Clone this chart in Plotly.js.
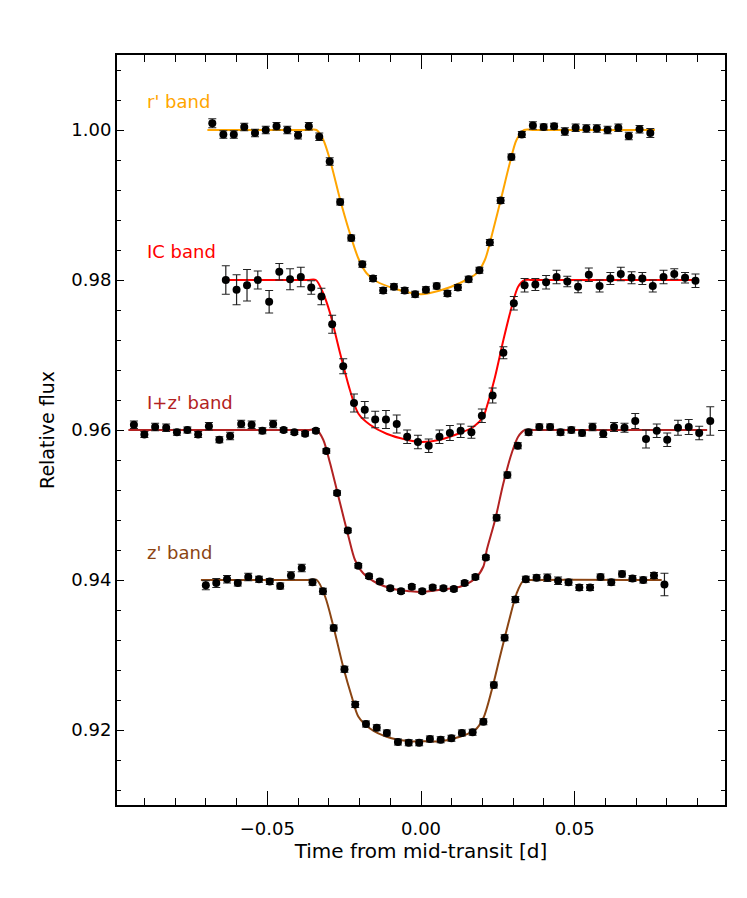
<!DOCTYPE html>
<html>
<head>
<meta charset="utf-8">
<script src="https://cdn.plot.ly/plotly-3.0.1.min.js"></script>
<style>
  body { margin: 0; background: white; }
  #lcplot { width: 747px; height: 898px; }
</style>
</head>
<body>
<div id="lcplot"></div>
<script>
// Transit light curves in four bands, each offset by 0.02 in relative flux.

var bandNames = ["r' band", "IC band", "I+z' band", "z' band"];
var bandColours = ['#FFA500', '#FF0000', '#B22222', '#8B4513'];
var labelY = [1.0038, 0.9838, 0.9637, 0.9437];

// r' band
var rX = [-0.0679, -0.0643, -0.0609, -0.0575, -0.054, -0.0505, -0.047, -0.0435, -0.040, -0.0365,
          -0.0331, -0.0297, -0.0263, -0.0227, -0.0191, -0.0156, -0.0123, -0.0088, -0.0053, -0.0019,
          0.0016, 0.0051, 0.0086, 0.012, 0.0155, 0.019, 0.0224, 0.0259, 0.0294, 0.0328,
          0.0364, 0.0399, 0.0433, 0.0468, 0.0503, 0.0538, 0.0572, 0.0607, 0.0642, 0.0676,
          0.0711, 0.0746];
var rY = [1.0009, 0.9994, 0.9994, 1.0004, 0.9996, 1.0000, 1.0005, 1.0000, 0.9993, 1.0005,
          0.9991, 0.9958, 0.9904, 0.9856, 0.9821, 0.9802, 0.9786, 0.9791, 0.9786, 0.9781,
          0.9787, 0.9792, 0.9782, 0.9790, 0.9801, 0.9813, 0.9850, 0.9906, 0.9964, 0.9994,
          1.0006, 1.0004, 1.0005, 0.9998, 1.0003, 1.0002, 1.0002, 1.0000, 1.0003, 0.9992,
          1.0001, 0.9996];
var rErr = [0.0006, 0.0005, 0.0005, 0.0005, 0.0005, 0.0005, 0.0005, 0.0005, 0.0005, 0.0005,
            0.0005, 0.0005, 0.0004, 0.0004, 0.0004, 0.0004, 0.0004, 0.0004, 0.0004, 0.0004,
            0.0004, 0.0004, 0.0004, 0.0004, 0.0004, 0.0004, 0.0004, 0.0004, 0.0004, 0.0004,
            0.0005, 0.0004, 0.0004, 0.0005, 0.0005, 0.0005, 0.0005, 0.0005, 0.0005, 0.0005,
            0.0005, 0.0006];
var rModelX = [-0.0695, -0.037, -0.034, -0.0318, -0.0296, -0.0263, -0.0235, -0.0204, -0.0177, -0.0144,
               -0.009, -0.0036, 0, 0.0062, 0.0127, 0.0181, 0.0208, 0.0235, 0.0262, 0.0289,
               0.0311, 0.0336, 0.037, 0.0761];
var rModelY = [1.0, 1.0, 1.0, 0.9987, 0.9960, 0.9907, 0.9867, 0.9829, 0.9809, 0.9798,
               0.9789, 0.9783, 0.9781, 0.9786, 0.9796, 0.9809, 0.9827, 0.9867, 0.9911, 0.9956,
               0.9987, 1.0, 1.0, 1.0];

// IC band
var icX = [-0.0635, -0.060, -0.0566, -0.0531, -0.0494, -0.0461, -0.0426, -0.0391, -0.0357, -0.0324,
           -0.0289, -0.0253, -0.0218, -0.0183, -0.0149, -0.0114, -0.0079, -0.0045, -0.001,
           0.0025, 0.006, 0.0094, 0.0129, 0.0164, 0.0198, 0.0233, 0.0268, 0.0302, 0.0337,
           0.0372, 0.0407, 0.0441, 0.0476, 0.0511, 0.0546, 0.0581, 0.0616, 0.065, 0.0685,
           0.072, 0.0754, 0.0789, 0.0824, 0.0859, 0.0893];
var icY = [0.9800, 0.9787, 0.9793, 0.9800, 0.9771, 0.9811, 0.9801, 0.9804, 0.9790, 0.9778,
           0.9741, 0.9685, 0.9636, 0.9627, 0.9614, 0.9614, 0.9608, 0.9591, 0.9584,
           0.9579, 0.9591, 0.9596, 0.9599, 0.9597, 0.9619, 0.9646, 0.9703, 0.9769, 0.9793,
           0.9794, 0.9797, 0.9804, 0.9798, 0.9791, 0.9807, 0.9792, 0.9802, 0.9808, 0.9803,
           0.9802, 0.9792, 0.9804, 0.9808, 0.9803, 0.9799];
var icErr = [0.0019, 0.0020, 0.0021, 0.0012, 0.0015, 0.0011, 0.0014, 0.0013, 0.0009, 0.0011,
             0.0012, 0.0010, 0.0012, 0.0011, 0.0011, 0.0012, 0.0012, 0.0009, 0.0009,
             0.0009, 0.0009, 0.0010, 0.0009, 0.0008, 0.0009, 0.0010, 0.0008, 0.0009, 0.0009,
             0.0008, 0.0009, 0.0009, 0.0007, 0.0008, 0.0009, 0.0008, 0.0008, 0.0009, 0.0008,
             0.0008, 0.0008, 0.0009, 0.0007, 0.0007, 0.0009];
var icModelX = [-0.0635, -0.037, -0.0342, -0.0318, -0.0296, -0.0263, -0.0231, -0.0204, -0.0166, -0.0112,
                -0.0047, 0, 0.0062, 0.0127, 0.017, 0.0203, 0.0214, 0.0241, 0.0268, 0.0295,
                0.0316, 0.0338, 0.036, 0.0893];
var icModelY = [0.98, 0.98, 0.98, 0.9782, 0.9756, 0.9702, 0.9653, 0.9622, 0.9607, 0.9595,
                0.9587, 0.9584, 0.9587, 0.9596, 0.9604, 0.9618, 0.9631, 0.9671, 0.9720, 0.9764,
                0.9791, 0.98, 0.98, 0.98];

// I+z' band
var izX = [-0.0934, -0.09, -0.0865, -0.0829, -0.0794, -0.076, -0.0725, -0.069, -0.0656, -0.0621,
           -0.0585, -0.0551, -0.0516, -0.0481, -0.0447, -0.0412, -0.0377, -0.0342, -0.0308, -0.0273,
           -0.0238, -0.0204, -0.0169, -0.0134, -0.01, -0.0065, -0.003,
           0.0004, 0.0038, 0.0073,
           0.0107, 0.0142, 0.0177, 0.0211, 0.0246, 0.0281, 0.0315, 0.035, 0.0385, 0.042,
           0.0454, 0.0489, 0.0524, 0.0558, 0.0593, 0.0628, 0.0662, 0.0697, 0.0732, 0.0767,
           0.0801, 0.0836, 0.0871, 0.0905, 0.0941];
var izY = [0.9607, 0.9594, 0.9604, 0.9603, 0.9597, 0.9600, 0.9594, 0.9605, 0.9587, 0.9592,
           0.9608, 0.9607, 0.9599, 0.9608, 0.9600, 0.9597, 0.9595, 0.9599, 0.9572, 0.9516,
           0.9466, 0.9419, 0.9405, 0.9398, 0.9389, 0.9385, 0.9391,
           0.9385, 0.9390, 0.9389,
           0.9388, 0.9396, 0.9404, 0.9430, 0.9483, 0.9540, 0.9579, 0.9597, 0.9604, 0.9604,
           0.9597, 0.9600, 0.9596, 0.9604, 0.9595, 0.9604, 0.9603, 0.9612, 0.9588, 0.9599,
           0.9587, 0.9603, 0.9604, 0.9596, 0.9612];
var izErr = [0.0005, 0.0004, 0.0005, 0.0005, 0.0004, 0.0004, 0.0004, 0.0005, 0.0004, 0.0005,
             0.0005, 0.0005, 0.0004, 0.0005, 0.0003, 0.0003, 0.0003, 0.0003, 0.0003, 0.0003,
             0.0003, 0.0003, 0.0003, 0.0003, 0.0003, 0.0003, 0.0003,
             0.0003, 0.0003, 0.0003,
             0.0003, 0.0003, 0.0003, 0.0003, 0.0004, 0.0004, 0.0004, 0.0004, 0.0004, 0.0004,
             0.0004, 0.0004, 0.0004, 0.0005, 0.0005, 0.0006, 0.0006, 0.0010, 0.0012, 0.0009,
             0.0009, 0.0010, 0.0010, 0.0009, 0.0019];
var izModelX = [-0.0952, -0.037, -0.0339, -0.0318, -0.0296, -0.0263, -0.0236, -0.0215, -0.0188, -0.0144,
                -0.009, -0.0036, 0, 0.0062, 0.0127, 0.0176, 0.0203, 0.0214, 0.0241, 0.0268,
                0.0295, 0.0316, 0.0338, 0.036, 0.0931];
var izModelY = [0.96, 0.96, 0.96, 0.9587, 0.9556, 0.9502, 0.9458, 0.9427, 0.9409, 0.9396,
                0.9388, 0.9385, 0.9384, 0.9387, 0.9391, 0.9402, 0.9418, 0.9440, 0.9480, 0.9529,
                0.9569, 0.9591, 0.96, 0.96, 0.96];

// z' band
var zX = [-0.07, -0.0666, -0.0631, -0.0596, -0.0562, -0.0527, -0.0492, -0.0458, -0.0423, -0.0388,
          -0.0353, -0.0319, -0.0284, -0.0249, -0.0214, -0.0179, -0.0144, -0.0111, -0.0075, -0.004,
          -0.0006,
          0.0029, 0.0064, 0.0099, 0.0133, 0.0168, 0.0203, 0.0237, 0.0272, 0.0307, 0.0341,
          0.0376, 0.0411, 0.0446, 0.048, 0.0515, 0.055, 0.0584, 0.0619, 0.0654, 0.0688,
          0.0723, 0.0758, 0.0792];
var zY = [0.9393, 0.9396, 0.9401, 0.9396, 0.9404, 0.9401, 0.9398, 0.9392, 0.9406, 0.9416,
          0.9397, 0.9385, 0.9336, 0.9281, 0.9234, 0.9208, 0.9203, 0.9196, 0.9184, 0.9183,
          0.9183,
          0.9188, 0.9187, 0.9189, 0.9196, 0.9197, 0.9211, 0.9260, 0.9323, 0.9374, 0.9401,
          0.9403, 0.9403, 0.9399, 0.9397, 0.9390, 0.9390, 0.9404, 0.9397, 0.9408, 0.9402,
          0.9400, 0.9406, 0.9394];
var zErr = [0.0006, 0.0006, 0.0005, 0.0004, 0.0005, 0.0004, 0.0004, 0.0004, 0.0005, 0.0005,
            0.0004, 0.0004, 0.0004, 0.0004, 0.0004, 0.0004, 0.0004, 0.0004, 0.0004, 0.0004,
            0.0004,
            0.0004, 0.0004, 0.0004, 0.0004, 0.0004, 0.0004, 0.0004, 0.0004, 0.0004, 0.0004,
            0.0004, 0.0005, 0.0005, 0.0004, 0.0004, 0.0004, 0.0004, 0.0004, 0.0004, 0.0004,
            0.0004, 0.0004, 0.0015];
var zModelX = [-0.0716, -0.037, -0.0339, -0.0312, -0.0285, -0.0253, -0.0225, -0.0204, -0.0166, -0.0112,
               -0.0036, 0, 0.0062, 0.0127, 0.0176, 0.0203, 0.023, 0.0257, 0.0284, 0.0311,
               0.0333, 0.036, 0.0783];
var zModelY = [0.94, 0.94, 0.94, 0.9378, 0.9338, 0.9284, 0.9244, 0.9218, 0.9202, 0.9191,
               0.9185, 0.9185, 0.9185, 0.9191, 0.9200, 0.9216, 0.9253, 0.9298, 0.9342, 0.9382,
               0.9399, 0.94, 0.94];

var bands = [
    {x: rX, y: rY, err: rErr, mx: rModelX, my: rModelY},
    {x: icX, y: icY, err: icErr, mx: icModelX, my: icModelY},
    {x: izX, y: izY, err: izErr, mx: izModelX, my: izModelY},
    {x: zX, y: zY, err: zErr, mx: zModelX, my: zModelY}
];

var fontFamily = 'DejaVu Sans, sans-serif';
var traces = [], annotations = [];
var i, b;

// model curves underneath
for (i = 0; i < bands.length; i++) {
    b = bands[i];
    traces.push({
        x: b.mx, y: b.my,
        mode: 'lines',
        line: {color: bandColours[i], width: 2, shape: 'spline', smoothing: 0.8},
        hoverinfo: 'skip'
    });
}

// the measurements with error bars
for (i = 0; i < bands.length; i++) {
    b = bands[i];
    traces.push({
        x: b.x, y: b.y,
        mode: 'markers',
        marker: {color: 'black', size: 8},
        error_y: {type: 'data', array: b.err, visible: true,
                  color: '#222222', thickness: 1.2, width: 4}
    });
    annotations.push({
        x: -0.0897, y: labelY[i],
        xref: 'x', yref: 'y',
        xanchor: 'left', yanchor: 'middle',
        text: bandNames[i],
        showarrow: false,
        font: {family: fontFamily, size: 18, color: bandColours[i]}
    });
}

var layout = {
    width: 747,
    height: 898,
    showlegend: false,
    paper_bgcolor: 'white',
    plot_bgcolor: 'white',
    margin: {l: 117, r: 22, t: 55, b: 93, pad: 0},
    font: {family: fontFamily, size: 18, color: 'black'},
    xaxis: {
        range: [-0.0989, 0.0989],
        title: {text: 'Time from mid-transit [d]', font: {size: 20}, standoff: 6},
        tick0: 0, dtick: 0.05, tickformat: '.2f',
        ticks: 'inside', ticklen: 14, tickwidth: 1, tickcolor: 'black',
        ticklabelstandoff: 6,
        minor: {dtick: 0.01, ticks: 'inside', ticklen: 7, tickcolor: 'black'},
        showline: true, linewidth: 2, linecolor: 'black', mirror: 'ticks',
        showgrid: false, zeroline: false, automargin: false
    },
    yaxis: {
        range: [0.91, 1.01],
        title: {text: 'Relative flux', font: {size: 19}, standoff: 12},
        tick0: 0, dtick: 0.02, tickformat: '.2f',
        ticks: 'inside', ticklen: 7, tickwidth: 1, tickcolor: 'black',
        minor: {dtick: 0.004, ticks: 'inside', ticklen: 4, tickcolor: 'black'},
        showline: true, linewidth: 2, linecolor: 'black', mirror: 'ticks',
        showgrid: false, zeroline: false, automargin: false
    },
    annotations: annotations
};

Plotly.newPlot('lcplot', traces, layout, {displayModeBar: false, staticPlot: true});
</script>
</body>
</html>
